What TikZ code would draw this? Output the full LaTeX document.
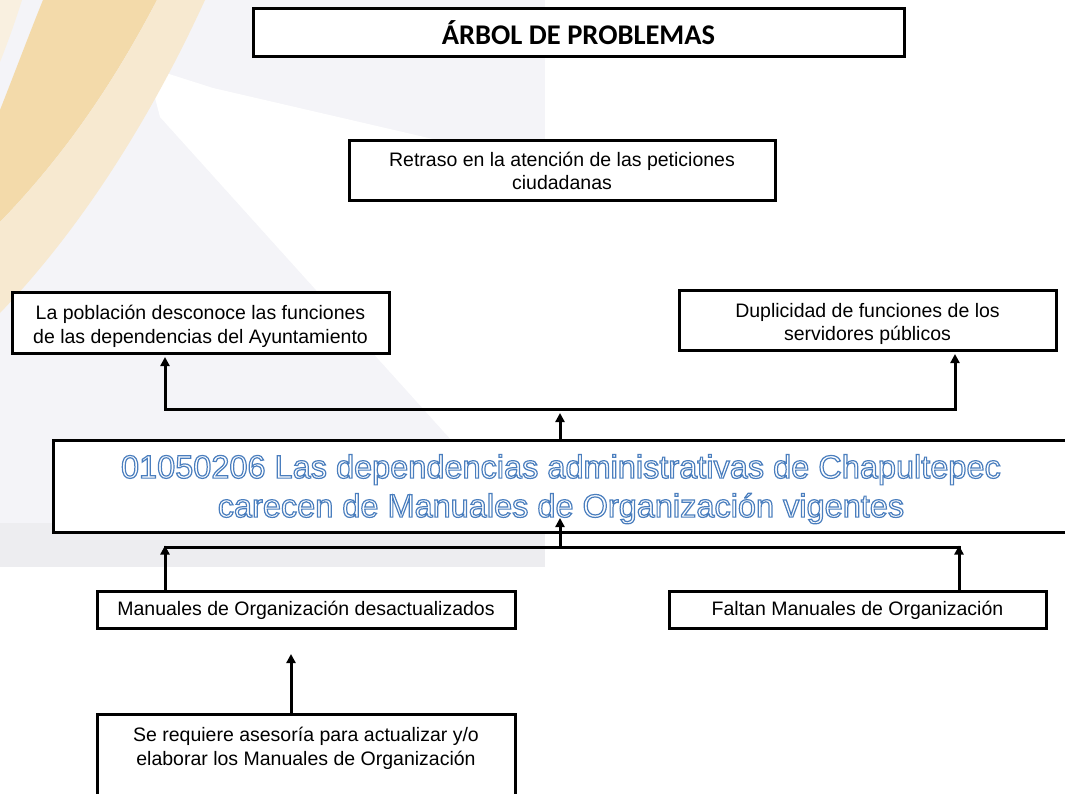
\documentclass[tikz,border=0pt]{standalone}
\usepackage{fontspec}
\setmainfont{Liberation Sans}
\newfontfamily\titlefont{Carlito}
\usetikzlibrary{arrows.meta}
\definecolor{bandA}{RGB}{243,218,170}
\definecolor{bandB}{RGB}{247,233,208}
\definecolor{bandC}{RGB}{249,240,224}
\definecolor{wmgray}{RGB}{244,244,248}
\definecolor{wmgrayB}{RGB}{237,237,240}
\newcommand\hollowtext[1]{{\color{white}\special{pdf:literal direct 0.290 0.494 0.745 RG 2 Tr 1.2 w}#1\special{pdf:literal direct 0 Tr}}}
\begin{document}
\begin{tikzpicture}[x=1pt,y=-1pt,
  box/.style={draw=black, line width=3pt, fill=white, inner sep=2pt, align=center,
    font=\fontsize{19.5}{23.5}\selectfont},
  conn/.style={line width=3pt},
  arr/.style={conn, -{Triangle[length=9pt,width=9pt]}},
]
\useasboundingbox (0,0) rectangle (1065,794);
% watermark background
\fill[wmgray] (0,0) rectangle (545,567);
\fill[white] (147,67) -- (213,88) -- (545,165) -- (545,544) -- (160,117) -- cycle;
\fill[wmgrayB] (0,523) rectangle (545,567);
\fill[bandC] (0,0) -- (22,0) .. controls (15,22) and (8,42) .. (0,62) -- cycle;
\fill[bandA] (43,0) -- (157,0) .. controls (110,90) and (60,160) .. (0,222) -- (0,110) .. controls (15,72) and (30,32) .. (43,0) -- cycle;
\fill[bandB] (157,0) -- (205,0) .. controls (150,120) and (80,230) .. (0,313) -- (0,222) .. controls (60,160) and (110,90) .. (157,0) -- cycle;

% nodes
\node[box, minimum width=651pt, minimum height=48pt,
  font=\titlefont\bfseries\fontsize{28.5}{30}\selectfont] (title) at (578.5,33) {ÁRBOL DE PROBLEMAS};
\node[box, minimum width=426pt, minimum height=60pt] (eff) at (562,171)
  {Retraso en la atención de las peticiones\\ciudadanas};
\node[box, minimum width=377pt, minimum height=61pt] (leff) at (200.5,322.5)
  {\rule{0pt}{22pt}La población desconoce las funciones\\de las dependencias del Ayuntamiento};
\node[box, minimum width=377pt, minimum height=60pt] (reff) at (867.5,320)
  {\rule{0pt}{22pt}Duplicidad de funciones de los\\servidores públicos};
\node[box, minimum width=1016pt, minimum height=92pt,
  font=\fontsize{32.5}{39}\selectfont] (main) at (561,486)
  {\rule{0pt}{30pt}\hollowtext{01050206 Las dependencias administrativas de Chapultepec}\\
   \hollowtext{carecen de Manuales de Organización vigentes}};
\node[box, minimum width=418pt, minimum height=37pt] (causeL) at (306,610)
  {Manuales de Organización desactualizados};
\node[box, minimum width=377pt, minimum height=37pt] (causeR) at (857.5,610)
  {Faltan Manuales de Organización};
\node[box, anchor=north, minimum width=418pt, inner sep=0pt] (sub) at (306,713)
  {\parbox[t][110pt][t]{410pt}{\vspace*{11pt}\centering\strut Se requiere asesoría para actualizar y/o\\elaborar los Manuales de Organización}};

% connectors, upper tree
\coordinate (lb) at (165,409);
\coordinate (rb) at (955,409);
\coordinate (toptip) at (560,413);
\draw[conn, {Triangle[length=9pt,width=9pt]}-{Triangle[length=9pt,width=9pt]}, shorten <=2.5pt, shorten >=2.5pt]
  (lb |- leff.south) -- (lb) -- (rb) -- (rb |- reff.south);
\draw[arr] (main.north -| toptip) -- (toptip);

% connectors, lower tree
\coordinate (bl) at (165,547);
\coordinate (br) at (959,547);
\coordinate (bm) at (560,547);
\coordinate (maintip) at (560,518);
\draw[conn, line cap=rect] (bl) -- (br);
\draw[arr] (bm) -- (maintip);
\draw[arr] (causeL.north -| bl) -- ([yshift=1.5pt]bl);
\draw[arr] (causeR.north -| br) -- ([yshift=1.5pt]br);

% bottom cause
\coordinate (subtip) at (291,654);
\draw[arr] (sub.north -| subtip) -- (subtip);
\end{tikzpicture}
\end{document}
